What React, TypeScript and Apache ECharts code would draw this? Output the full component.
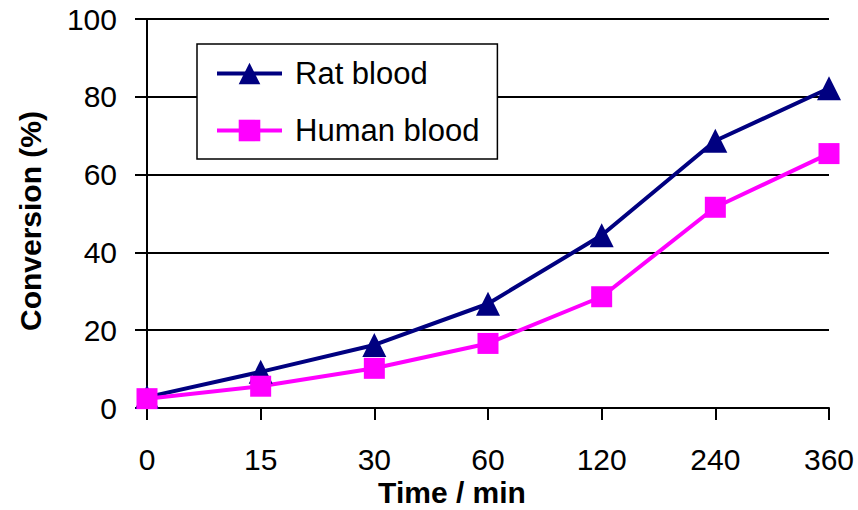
import React, { useEffect, useRef } from "react";
import * as echarts from "echarts";

const categories = ["0", "15", "30", "60", "120", "240", "360"];
const ratBlood = [2.8, 9.3, 16.2, 26.8, 44.4, 68.7, 82.2];
const humanBlood = [2.4, 5.6, 10.2, 16.6, 28.6, 51.6, 65.4];
const xTitle = "Time / min";
const yTitle = "Conversion (%)";

const FONT = "'Liberation Sans', Arial, Helvetica, sans-serif";

export default function App() {
  const ref = useRef<HTMLDivElement>(null);
  useEffect(() => {
    if (!ref.current) return;
    const chart = echarts.init(ref.current, null, { renderer: "svg" });
    chart.setOption({
      animation: false,
      backgroundColor: "#ffffff",
      textStyle: { fontFamily: FONT },
      grid: { left: 147, right: 29, top: 19, bottom: 102, containLabel: false },
      legend: {
        left: 197,
        top: 44,
        orient: "vertical",
        padding: [14, 18, 13, 18],
        itemGap: 26,
        itemWidth: 65,
        itemHeight: 27,
        backgroundColor: "#ffffff",
        borderColor: "#000000",
        borderWidth: 1.5,
        lineStyle: { width: 4 },
        textStyle: {
          fontSize: 31,
          lineHeight: 30,
          color: "#000",
          fontFamily: FONT,
          padding: [0, 0, 0, 8],
        },
        data: ["Rat blood", "Human blood"],
      },
      xAxis: {
        type: "category",
        data: categories,
        boundaryGap: false,
        axisLine: { lineStyle: { color: "#000", width: 2 } },
        axisTick: { show: true, length: 12, inside: false, lineStyle: { color: "#000", width: 2 } },
        axisLabel: { fontSize: 30, color: "#000", margin: 36, fontFamily: FONT },
        splitLine: { show: false },
      },
      yAxis: {
        type: "value",
        min: 0,
        max: 100,
        interval: 20,
        axisLine: { show: true, lineStyle: { color: "#000", width: 2 } },
        axisTick: { show: true, length: 12, lineStyle: { color: "#000", width: 2 } },
        axisLabel: { fontSize: 30, color: "#000", margin: 30, fontFamily: FONT },
        splitLine: { show: true, lineStyle: { color: "#000", width: 2 } },
      },
      graphic: [
        {
          type: "text",
          x: 452,
          y: 492,
          style: {
            text: xTitle,
            fontSize: 30,
            fontWeight: "bold",
            fontFamily: FONT,
            fill: "#000",
            textAlign: "center",
            textVerticalAlign: "middle",
          },
        },
        {
          type: "text",
          x: 30,
          y: 221,
          rotation: Math.PI / 2,
          style: {
            text: yTitle,
            fontSize: 30,
            fontWeight: "bold",
            fontFamily: FONT,
            fill: "#000",
            textAlign: "center",
            textVerticalAlign: "middle",
          },
        },
      ],
      series: [
        {
          name: "Rat blood",
          type: "line",
          data: ratBlood,
          symbol: "triangle",
          symbolSize: 24,
          lineStyle: { color: "#000080", width: 4 },
          itemStyle: { color: "#000080" },
        },
        {
          name: "Human blood",
          type: "line",
          data: humanBlood,
          symbol: "rect",
          symbolSize: 21,
          lineStyle: { color: "#FF00FF", width: 4 },
          itemStyle: { color: "#FF00FF" },
        },
      ],
    });
    return () => chart.dispose();
  }, []);
  return (
    <div
      ref={ref}
      style={{ position: "absolute", left: 0, top: 0, width: 858, height: 510 }}
    />
  );
}
